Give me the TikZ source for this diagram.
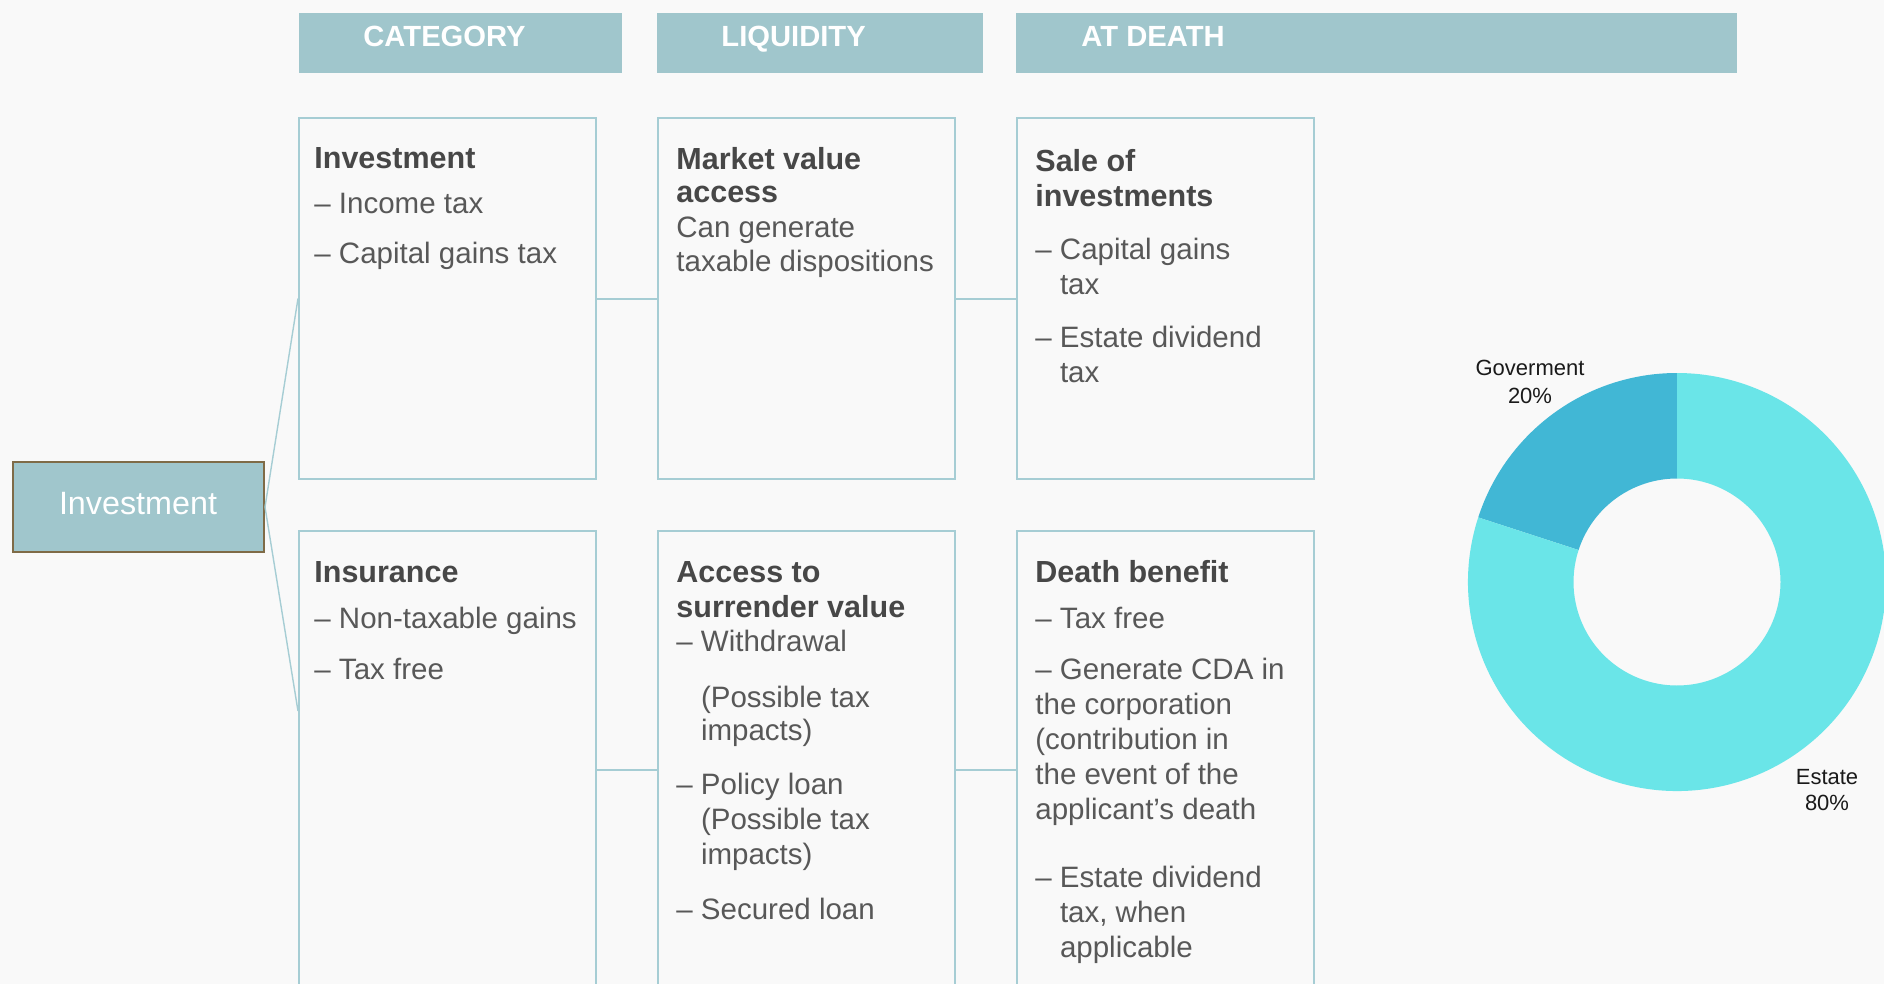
\documentclass[tikz,border=0pt]{standalone}
\usepackage{fontspec}
\setmainfont{Liberation Sans}
\definecolor{bgc}{HTML}{F9F9F9}
\definecolor{hdrc}{HTML}{A0C6CC}
\definecolor{boxc}{HTML}{A6CDD4}
\definecolor{brownc}{HTML}{7F6B47}
\definecolor{bodyc}{HTML}{585858}
\definecolor{titc}{HTML}{474747}
\definecolor{govc}{HTML}{41B7D5}
\definecolor{estc}{HTML}{6AE5E8}
\definecolor{labc}{HTML}{1A1A1A}
\newcommand\Li[1]{\hbox{#1}}
\newcommand\Tt[1]{\hbox{\fontsize{15.25}{17.5}\selectfont\bfseries\color{titc}#1}}
\newcommand\Gp[1]{\vskip#1pt}
\newcommand\Ind{\hphantom{– }}
\newcommand\Ctr[1]{\hbox to 70pt{\hfil#1\hfil}}
\begin{document}
\begin{tikzpicture}[x=0.5pt,y=-0.5pt,
  hdr/.style={fill=hdrc,draw=none,anchor=north west,inner sep=0,minimum height=30pt},
  hdrtxt/.style={anchor=base west,inner sep=0,text=white,font=\fontsize{14.6}{17}\selectfont\bfseries},
  cbox/.style={draw=boxc,line width=1pt,anchor=north west,inner sep=0,minimum width=148.5pt},
  txt/.style={anchor=base west,inner sep=0,text=bodyc,font=\fontsize{14.75}{17.5}\selectfont},
  conn/.style={draw=boxc,line width=1pt},
  fanline/.style={draw=boxc,line width=0.7pt},
  plab/.style={anchor=base,inner sep=0,text=labc,font=\fontsize{11}{14}\selectfont}]
\clip (0,0) rectangle (1884,984);
\fill[bgc] (0,0) rectangle (1884,984);
% headers
\node[hdr,minimum width=161.5pt] (hcat) at (299,13) {};
\node[hdr,minimum width=163pt] (hliq) at (657,13) {};
\node[hdr,minimum width=360.5pt] (hdea) at (1016,13) {};
\node[hdrtxt] (tcat) at (363,47) {CATEGORY};
\node[hdrtxt] (tliq) at (721,47) {LIQUIDITY};
\node[hdrtxt] (tdea) at (1081,47) {AT DEATH};
% boxes
\node[cbox,minimum height=180.5pt] (b11) at (298,117) {};
\node[cbox,minimum height=180.5pt] (b12) at (657,117) {};
\node[cbox,minimum height=180.5pt] (b13) at (1016,117) {};
\node[cbox,minimum height=239pt] (b21) at (298,530) {};
\node[cbox,minimum height=239pt] (b22) at (657,530) {};
\node[cbox,minimum height=239pt] (b23) at (1016,530) {};
\draw[conn] (b11.east) -- (b12.west);
\draw[conn] (b12.east) -- (b13.west);
\draw[conn] (b21.east) -- (b22.west);
\draw[conn] (b22.east) -- (b23.west);
% left box
\node[fill=hdrc,draw=brownc,line width=1pt,minimum width=125.5pt,minimum height=45pt,inner sep=0,anchor=north west] (inv) at (12,461) {};
\node[anchor=base,inner sep=0,text=white,font=\fontsize{16.15}{18}\selectfont] (invt) at (138,514) {Investment};
\draw[fanline] (inv.east) -- (b11.west);
\draw[fanline] (inv.east) -- ([yshift=-90.5pt]b21.north west);
% texts
\node[txt] (c11) at (314,169) {\vtop{\Tt{Investment}\Gp{5}\Li{– Income tax}\Gp{7.5}\Li{– Capital gains tax}}};
\node[txt] (c12) at (676,170) {\vtop{\Tt{Market value}\Gp{-1}\Tt{access}\Li{Can generate}\Gp{-0.5}\Li{taxable dispositions}}};
\node[txt] (c13) at (1035,172) {\vtop{\Tt{Sale of}\Tt{investments}\Gp{9}\Li{– Capital gains}\Li{\Ind tax}\Gp{9}\Li{– Estate dividend}\Li{\Ind tax}}};
\node[txt] (c21) at (314,582) {\vtop{\Tt{Insurance}\Gp{5.5}\Li{– Non-taxable gains}\Gp{8}\Li{– Tax free}}};
\node[txt] (c22) at (676,582) {\vtop{\Tt{Access to}\Tt{surrender value}\Gp{-0.5}\Li{– Withdrawal}\Gp{10.5}\Li{\Ind(Possible tax}\Gp{-1}\Li{\Ind impacts)}\Gp{9.5}\Li{– Policy loan}\Li{\Ind(Possible tax}\Li{\Ind impacts)}\Gp{10}\Li{– Secured loan}}};
\node[txt] (c23) at (1035,582) {\vtop{\Tt{Death benefit}\Gp{5.5}\Li{– Tax free}\Gp{8}\Li{– Generate CDA in}\Li{the corporation}\Li{(contribution in}\Li{the event of the}\Li{applicant’s death}\Gp{16.5}\Li{– Estate dividend}\Li{\Ind tax, when}\Li{\Ind applicable}}};
% donut
\begin{scope}[shift={(1677,582)},x=0.5pt,y=0.5pt]
\fill[govc] (90:209) arc[start angle=90,end angle=162,radius=209] -- (162:103.5) arc[start angle=162,end angle=90,radius=103.5] -- cycle;
\fill[estc] (162:209) arc[start angle=162,end angle=450,radius=209] -- (90:103.5) arc[start angle=450,end angle=162,radius=103.5] -- cycle;
\end{scope}
\node[plab] (lgov) at (1530,375) {\vtop{\Ctr{Goverment}\Ctr{20\%}}};
\node[plab] (lest) at (1827,784) {\vtop{\Ctr{Estate}\Gp{-1}\Ctr{80\%}}};
\end{tikzpicture}
\end{document}
